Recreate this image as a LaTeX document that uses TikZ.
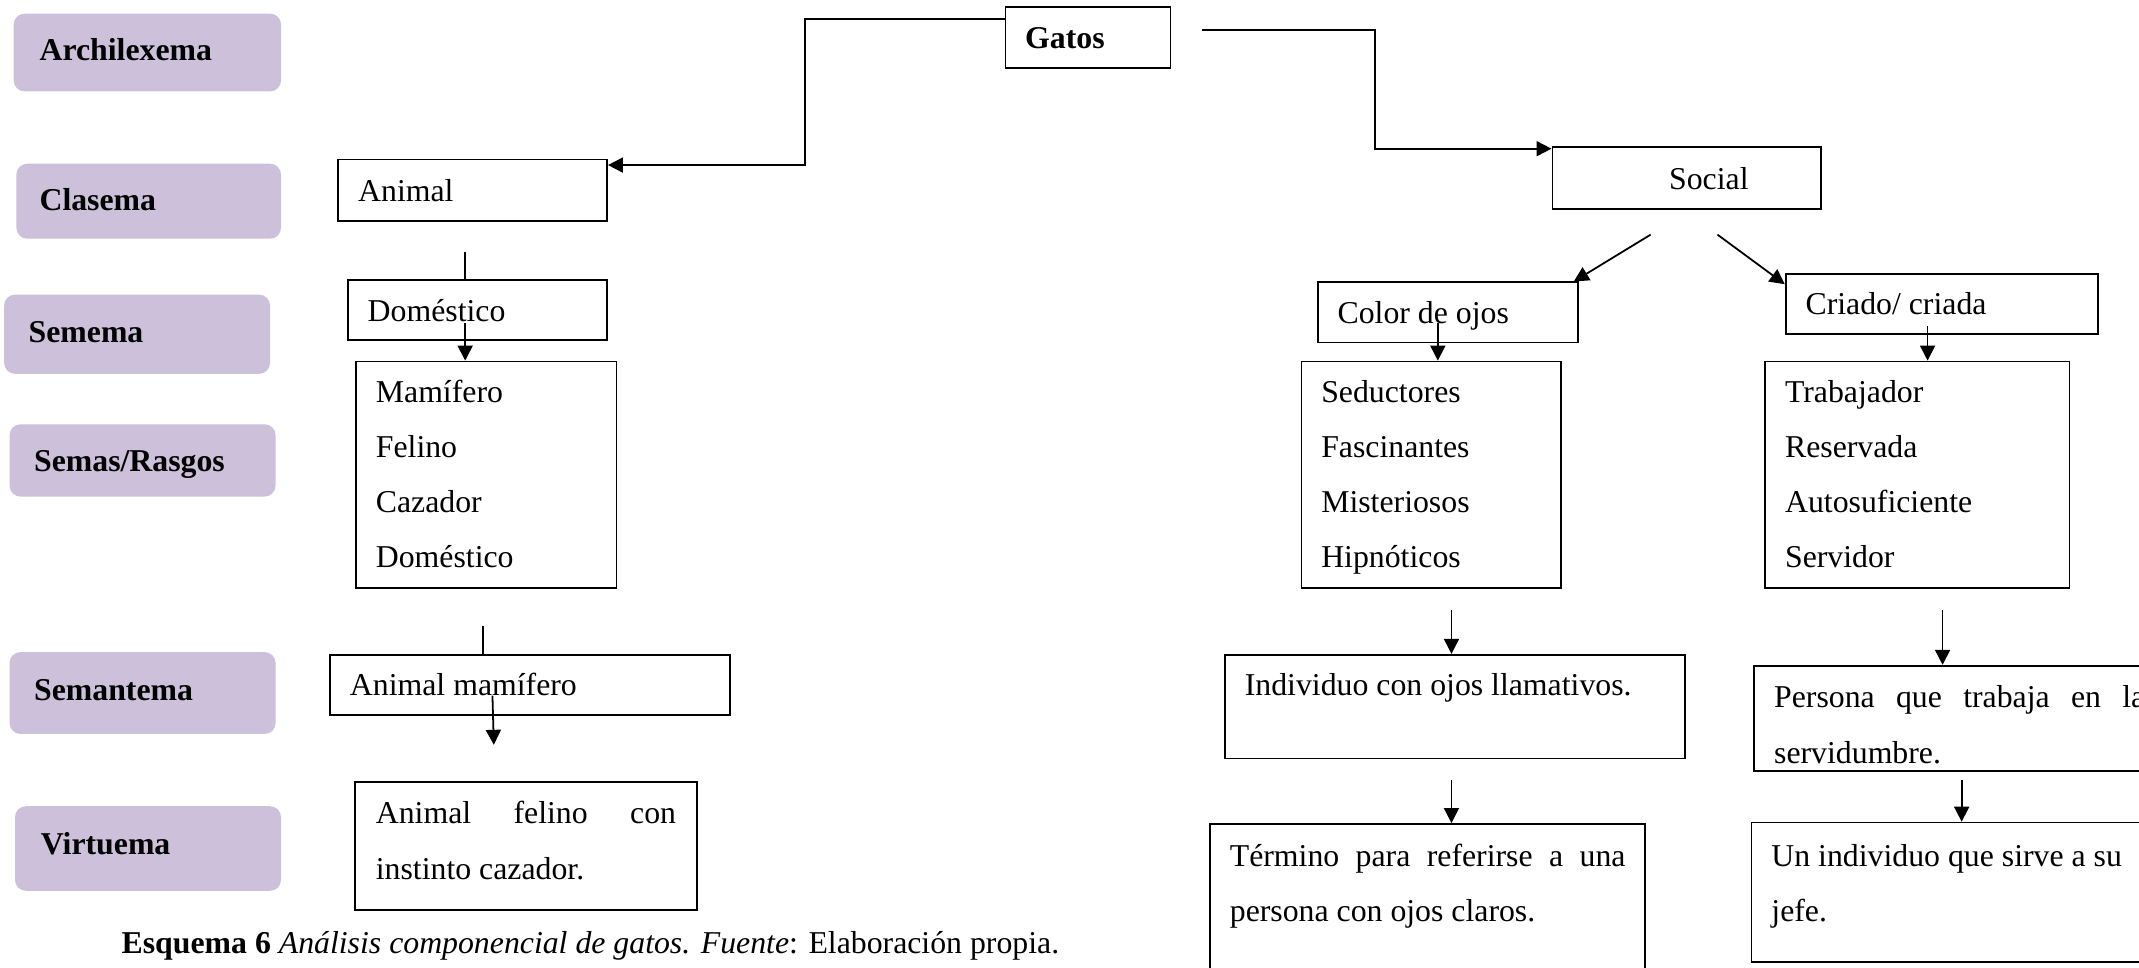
\documentclass[tikz,border=0pt]{standalone}
\usepackage{fontspec}
\setmainfont{Liberation Serif}
\usetikzlibrary{arrows.meta,calc}
\definecolor{tierfill}{RGB}{204,192,218}
\newcommand\diafont{\fontsize{23.3}{40.5}\selectfont}
\begin{document}
\begin{tikzpicture}[x=1pt,y=-1pt,
  cell/.style={draw, line width=1.3pt, inner sep=0pt, fill=white},
  tier/.style={fill=tierfill, rounded corners=8pt, inner sep=0pt},
  txt/.style={anchor=base west, inner sep=0pt, font=\diafont},
  head/.style={anchor=base west, inner sep=0pt, font=\diafont\bfseries},
  conn/.style={line width=1.3pt},
  arr/.style={conn, -{Triangle[length=11pt,width=11pt]}}]

\clip (0,0) rectangle (1568,709);

% level labels on the left
\node[tier, minimum width=196pt, minimum height=57pt] (arch) at (108,38.5) {};
\node[tier, minimum width=194pt, minimum height=55pt] (clas) at (109,147.5) {};
\node[tier, minimum width=195pt, minimum height=58pt] (seme) at (100.5,245) {};
\node[tier, minimum width=195pt, minimum height=53pt] (rasg) at (104.5,337.5) {};
\node[tier, minimum width=195pt, minimum height=60pt] (sman) at (104.5,508) {};
\node[tier, minimum width=195pt, minimum height=62pt] (virt) at (108.5,622) {};
\node[head] (arch-t) at ($(arch.north west)+(19,34.5)$) {Archilexema};
\node[head] (clas-t) at ($(clas.north west)+(17,34.5)$) {Clasema};
\node[head] (seme-t) at ($(seme.north west)+(18,35.5)$) {Semema};
\node[head] (rasg-t) at ($(rasg.north west)+(18,34.5)$) {Semas/Rasgos};
\node[head] (sman-t) at ($(sman.north west)+(18,35.5)$) {Semantema};
\node[head] (virt-t) at ($(virt.north west)+(19,35.5)$) {Virtuema};

% root
\node[cell, minimum width=121pt, minimum height=45pt] (gat) at (797.5,27.5) {};
\node[head] (gat-t) at ($(gat.north west)+(15,31)$) {Gatos};

% left branch
\node[cell, minimum width=197pt, minimum height=45pt] (ani) at (346.5,139.5) {};
\node[cell, minimum width=190pt, minimum height=44pt] (dom) at (350,227) {};
\node[cell, minimum width=191pt, minimum height=166pt] (mam) at (356.5,348) {};
\node[cell, minimum width=293pt, minimum height=44pt] (amm) at (388.5,502) {};
\node[cell, minimum width=251pt, minimum height=94pt] (afc) at (385.5,620) {};
\node[txt] (ani-t) at ($(ani.north west)+(15,31.5)$) {Animal};
\node[txt] (dom-t) at ($(dom.north west)+(15,31.5)$) {Doméstico};
\node[txt] (mam-t) at ($(mam.north west)+(15,30.5)$)
  {\begin{tabular}[t]{@{}l@{}}Mamífero\\Felino\\Cazador\\Doméstico\end{tabular}};
\node[txt] (amm-t) at ($(amm.north west)+(15,30.5)$) {Animal mamífero};
\node[txt] (afc-t) at ($(afc.north west)+(16,31.5)$)
  {\begin{tabular}[t]{@{}l@{}}\makebox[220pt][s]{Animal felino con}\\instinto cazador.\end{tabular}};

% right branch
\node[cell, minimum width=197pt, minimum height=45pt] (soc) at (1236.5,130.5) {};
\node[cell, minimum width=191pt, minimum height=44pt] (col) at (1061.5,229) {};
\node[cell, minimum width=229pt, minimum height=44pt] (cri) at (1423.5,223) {};
\node[cell, minimum width=190pt, minimum height=166pt] (sed) at (1049,348) {};
\node[cell, minimum width=223pt, minimum height=166pt] (tra) at (1405.5,348) {};
\node[cell, minimum width=337pt, minimum height=76pt] (ind) at (1066.5,518) {};
\node[cell, minimum width=302pt, minimum height=77pt] (per) at (1437,526.5) {};
\node[cell, minimum width=319pt, minimum height=141pt] (ter) at (1046.5,674.5) {};
\node[cell, minimum width=316pt, minimum height=102pt] (uni) at (1442,654) {};
\node[txt] (soc-t) at ($(soc.north west)+(86,31.5)$) {Social};
\node[txt] (col-t) at ($(col.north west)+(15,30.5)$) {Color de ojos};
\node[txt] (cri-t) at ($(cri.north west)+(15,30.5)$) {Criado/ criada};
\node[txt] (sed-t) at ($(sed.north west)+(15,30.5)$)
  {\begin{tabular}[t]{@{}l@{}}Seductores\\Fascinantes\\Misteriosos\\Hipnóticos\end{tabular}};
\node[txt] (tra-t) at ($(tra.north west)+(15,30.5)$)
  {\begin{tabular}[t]{@{}l@{}}Trabajador\\Reservada\\Autosuficiente\\Servidor\end{tabular}};
\node[txt] (ind-t) at ($(ind.north west)+(15,30.5)$) {Individuo con ojos llamativos.};
\node[txt] (per-t) at ($(per.north west)+(15,31.5)$)
  {\begin{tabular}[t]{@{}l@{}}\makebox[272pt][s]{Persona que trabaja en la}\\servidumbre.\end{tabular}};
\node[txt] (ter-t) at ($(ter.north west)+(15,31.5)$)
  {\begin{tabular}[t]{@{}l@{}}\makebox[290pt][s]{Término para referirse a una}\\persona con ojos claros.\end{tabular}};
\node[txt] (uni-t) at ($(uni.north west)+(15,32.5)$)
  {\begin{tabular}[t]{@{}l@{}}Un individuo que sirve a su\\jefe.\end{tabular}};

% caption
\node[txt] (cap) at (89,699)
  {\textbf{Esquema 6} \textit{Análisis componencial de gatos. Fuente}: Elaboración propia.};

% connectors from the root
\coordinate (gl) at (737,14);
\coordinate (kl) at (590,121);
\draw[arr] (gl) -| (kl) -- (kl -| ani.east);
\coordinate (gr) at (881,22);
\coordinate (kr) at (1008,109);
\draw[arr] (gr) -| (kr) -- (kr -| soc.west);

% left column
\coordinate (a1) at (341,185);
\draw[conn] (a1) -- (a1 |- dom.north);
\coordinate (a2) at (341,237);
\draw[arr] (a2) -- (a2 |- mam.north);
\coordinate (a3) at (354,459);
\draw[conn] (a3) -- (a3 |- amm.north);
\coordinate (a4) at (361,510);
\coordinate (a5) at (362,546);
\draw[arr] (a4) -- (a5);

% right columns
\coordinate (s1) at (1210,172);
\draw[arr] (s1) -- ([xshift=-4pt]col.north east);
\coordinate (s2) at (1259,172);
\draw[arr] (s2) -- ([yshift=-8pt]cri.north west);
\coordinate (c1) at (1054,237);
\draw[arr] (c1) -- (c1 |- sed.north);
\coordinate (c2) at (1413,239);
\draw[arr] (c2) -- (c2 |- tra.north);
\coordinate (c3) at (1064,447);
\draw[arr] (c3) -- (c3 |- ind.north);
\coordinate (c4) at (1424,447);
\draw[arr] (c4) -- (c4 |- per.north);
\coordinate (c5) at (1064,572);
\draw[arr] (c5) -- (c5 |- ter.north);
\coordinate (c6) at (1438,572);
\draw[arr] (c6) -- (c6 |- uni.north);
\end{tikzpicture}
\end{document}
